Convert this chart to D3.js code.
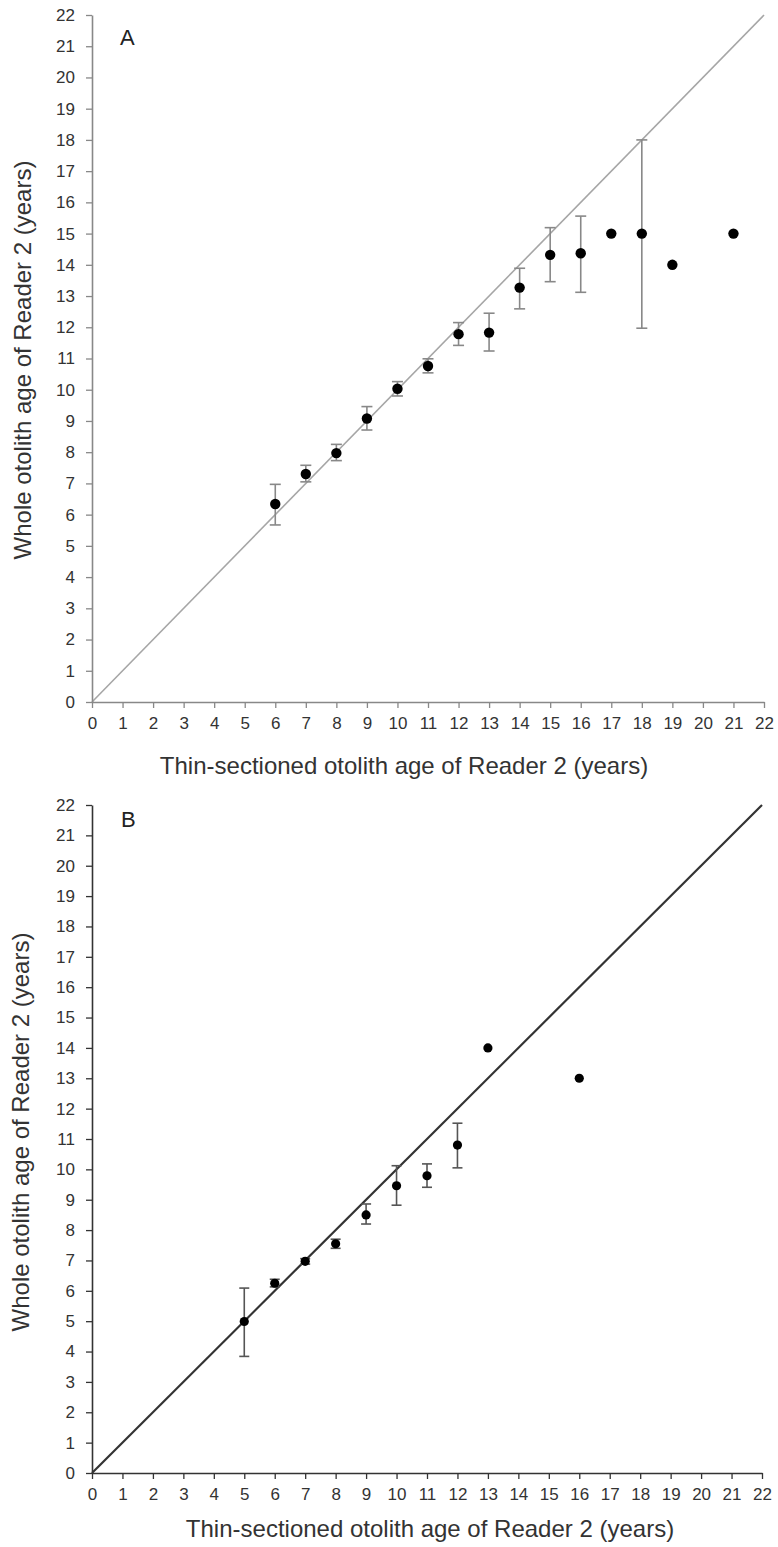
<!DOCTYPE html>
<html><head><meta charset="utf-8">
<script src="https://cdn.jsdelivr.net/npm/d3@7"></script>
<style>body{margin:0;background:#fff}svg{display:block}text{font-family:"Liberation Sans",Arial,sans-serif}</style>
</head><body>
<svg id="c" width="778" height="1547"></svg>
<script>
const ticks = d3.range(0, 23);
// Panel A
const ageA  = [6,7,8,9,10,11,12,13,14,15,16,17,18,19,21];
const meanA = [6.34,7.30,7.97,9.08,10.03,10.76,11.78,11.83,13.27,14.32,14.37,15,15,14,15];
const lowA  = [5.67,7.05,7.73,8.71,9.80,10.54,11.42,11.24,12.59,13.46,13.12,null,11.97,null,null];
const highA = [6.97,7.58,8.25,9.46,10.26,10.99,12.15,12.45,13.89,15.19,15.56,null,18.0,null,null];
// Panel B
const ageB  = [5,6,7,8,9,10,11,12,13,16];
const meanB = [4.99,6.25,6.97,7.55,8.50,9.46,9.79,10.80,14,13];
const lowB  = [3.84,6.13,6.88,7.40,8.20,8.82,9.41,10.05,null,null];
const highB = [6.09,6.38,7.06,7.70,8.86,10.12,10.18,11.52,null,null];

const xTitle = "Thin-sectioned otolith age of Reader 2 (years)";
const yTitle = "Whole otolith age of Reader 2 (years)";

const svg = d3.select("#c");

function panel(o){
  const g = svg.append("g");
  const x = d3.scaleLinear().domain([0,22]).range(o.xr);
  const y = d3.scaleLinear().domain([0,22]).range(o.yr);
  // diagonal 1:1 line
  g.append("line").attr("x1",x(0)).attr("y1",y(0)).attr("x2",x(22)).attr("y2",y(22))
    .attr("stroke",o.diag).attr("stroke-width",o.diagW);
  // axes
  const ax = g.append("g").attr("transform",`translate(0,${y(0)})`)
    .call(d3.axisBottom(x).tickValues(ticks).tickFormat(d3.format("d")).tickSize(6).tickSizeOuter(0).tickPadding(9));
  const ay = g.append("g").attr("transform",`translate(${x(0)},0)`)
    .call(d3.axisLeft(y).tickValues(ticks).tickFormat(d3.format("d")).tickSize(6).tickSizeOuter(0).tickPadding(11));
  [ax,ay].forEach(a=>{
    a.select(".domain").attr("stroke",o.axis).attr("stroke-width",1.6);
    a.selectAll(".tick line").attr("stroke",o.axis).attr("stroke-width",1.3);
    a.selectAll(".tick text").attr("fill","#333").style("font-size","17px");
  });
  // error bars
  const eb = o.age.map((a,i)=>({a,lo:o.low[i],hi:o.high[i]})).filter(d=>d.lo!=null);
  const e = g.append("g").attr("stroke",o.err).attr("stroke-width",1.6);
  e.selectAll("line.v").data(eb).enter().append("line")
    .attr("x1",d=>x(d.a)).attr("x2",d=>x(d.a)).attr("y1",d=>y(d.lo)).attr("y2",d=>y(d.hi));
  e.selectAll("line.t").data(eb).enter().append("line")
    .attr("x1",d=>x(d.a)-o.cap).attr("x2",d=>x(d.a)+o.cap).attr("y1",d=>y(d.hi)).attr("y2",d=>y(d.hi));
  e.selectAll("line.b").data(eb).enter().append("line")
    .attr("x1",d=>x(d.a)-o.cap).attr("x2",d=>x(d.a)+o.cap).attr("y1",d=>y(d.lo)).attr("y2",d=>y(d.lo));
  // points
  g.selectAll("circle").data(o.age.map((a,i)=>({a,m:o.mean[i]}))).enter().append("circle")
    .attr("cx",d=>x(d.a)).attr("cy",d=>y(d.m)).attr("r",o.r).attr("fill","#000");
  // labels
  g.append("text").attr("x",o.lab[0]).attr("y",o.lab[1]).text(o.label)
    .attr("fill","#222").style("font-size","22px");
  g.append("text").attr("x",o.xt[0]).attr("y",o.xt[1]).attr("text-anchor","middle")
    .attr("fill","#333").style("font-size","24px").text(xTitle);
  g.append("text").attr("transform",`translate(${o.yt[0]},${o.yt[1]}) rotate(-90)`).attr("text-anchor","middle")
    .attr("fill","#333").style("font-size","24px").text(yTitle);
}

panel({xr:[92,764], yr:[702,15], age:ageA, mean:meanA, low:lowA, high:highA,
  axis:"#888", diag:"#a6a6a6", diagW:1.6, err:"#888", cap:5.5, r:5.2,
  label:"A", lab:[120,45], xt:[404,774], yt:[31,360]});
panel({xr:[92,762], yr:[1473,805], age:ageB, mean:meanB, low:lowB, high:highB,
  axis:"#333", diag:"#333", diagW:2.2, err:"#555", cap:5, r:4.6,
  label:"B", lab:[121,827], xt:[430,1537], yt:[29,1132]});
</script>
</body></html>
